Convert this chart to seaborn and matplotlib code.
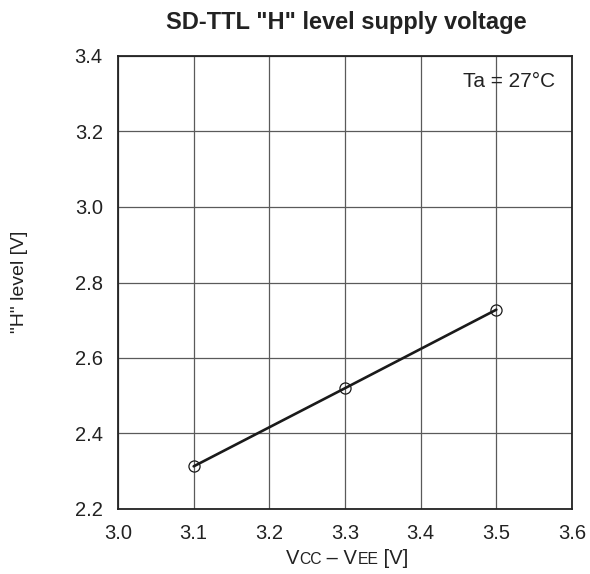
import numpy as np
import pandas as pd
import matplotlib
matplotlib.use("Agg")
import matplotlib.pyplot as plt
from matplotlib.offsetbox import TextArea, HPacker, AnchoredOffsetbox
import seaborn as sns

# data
supply_v = [3.1, 3.3, 3.5]
h_level = [2.313, 2.52, 2.728]
x_ticks = [3.0, 3.1, 3.2, 3.3, 3.4, 3.5, 3.6]
y_ticks = [2.2, 2.4, 2.6, 2.8, 3.0, 3.2, 3.4]

sns.set_theme(style="white")
fonts = ['Liberation Sans', 'DejaVu Sans']
plt.rcParams['font.family'] = fonts
plt.rcParams['axes.unicode_minus'] = False
ink = '#222222'

df = pd.DataFrame({'vcc': supply_v, 'h': h_level})

W, H = 590, 574
fig = plt.figure(figsize=(W / 100, H / 100), dpi=100)
ax = fig.add_axes([118 / W, 1 - 509 / H, (572 - 118) / W, (509 - 56) / H])

sns.lineplot(data=df, x='vcc', y='h', ax=ax, color='#1a1a1a', linewidth=1.9,
             marker='o', markersize=8, markerfacecolor='none',
             markeredgecolor='#1a1a1a', markeredgewidth=0.9)

ax.set_xlim(3.0, 3.6)
ax.set_ylim(2.2, 3.4)
ax.set_xticks(x_ticks)
ax.set_yticks(y_ticks)
ax.set_xticklabels([f'{v:.1f}' for v in x_ticks])
ax.set_yticklabels([f'{v:.1f}' for v in y_ticks])
ax.tick_params(axis='both', length=0, labelsize=14.5, colors=ink)
ax.tick_params(axis='y', pad=11)
ax.tick_params(axis='x', pad=11)
ax.grid(True, color='#5a5a5a', linewidth=0.9)
ax.set_axisbelow(True)
for s in ax.spines.values():
    s.set_color(ink)
    s.set_linewidth(1.3)

ax.set_xlabel('')
ax.set_ylabel('')
fig.text(20 / W, 1 - 282 / H, '"H" level [V]', rotation=90, ha='center', va='center',
         fontsize=14, color=ink)
fig.text(346 / W, 1 - 22 / H, 'SD-TTL "H" level supply voltage', ha='center', va='center',
         fontsize=17, fontweight='bold', color=ink)

ax.text(0.963, 0.943, 'Ta = 27°C', transform=ax.transAxes, ha='right', va='center',
        fontsize=15, color=ink)

# x label with small-caps style subscripts
parts = [('V', 14.5), ('CC', 11.3), (' – V', 14.5), ('EE', 11.3), (' [V]', 14.5)]
areas = [TextArea(t, textprops=dict(fontsize=fs, color=ink, family=fonts))
         for t, fs in parts]
box = HPacker(children=areas, align='baseline', pad=0, sep=0)
anch = AnchoredOffsetbox(loc='center', child=box, pad=0, frameon=False,
                         bbox_to_anchor=(347 / W, 1 - 558 / H),
                         bbox_transform=fig.transFigure, borderpad=0)
fig.add_artist(anch)

fig.savefig('out.png', dpi=100, facecolor='white')
